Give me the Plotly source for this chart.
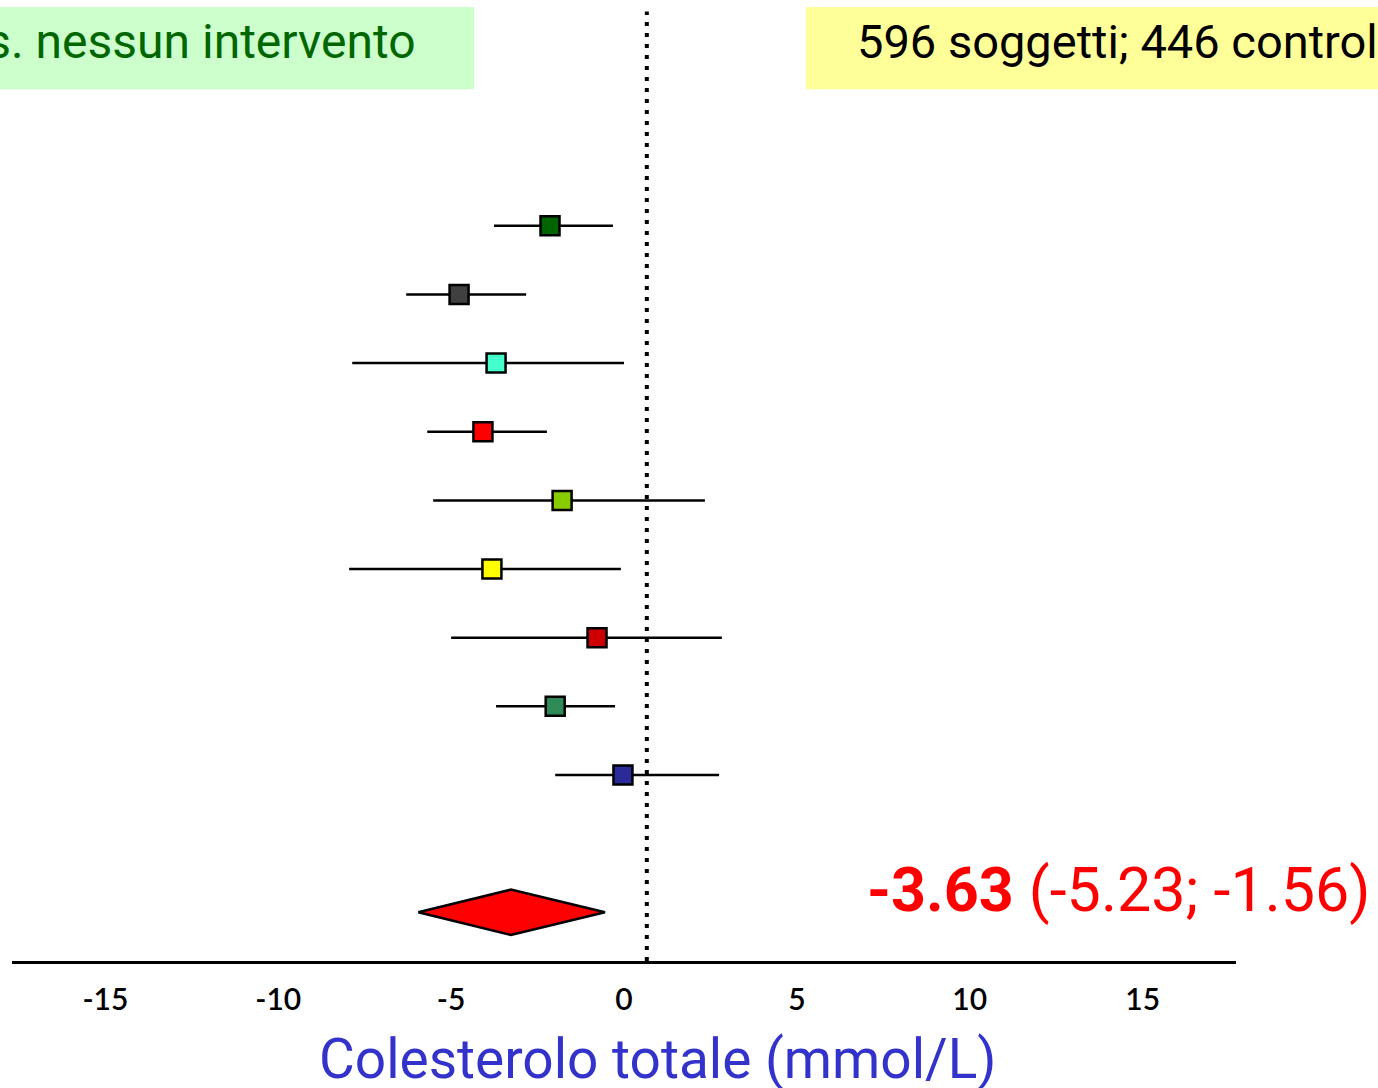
import plotly.graph_objects as go

# ---- data ----
study_rows = [1, 2, 3, 4, 5, 6, 7, 8, 9]
study_mean = [-2.14, -4.77, -3.70, -4.08, -1.79, -3.82, -0.78, -1.99, -0.03]
study_low = [-3.76, -6.30, -7.86, -5.69, -5.52, -7.95, -5.00, -3.70, -1.99]
study_high = [-0.32, -2.83, 0.00, -2.23, 2.34, -0.09, 2.83, -0.26, 2.75]
study_colors = ["#006400", "#404040", "#44ffcc", "#ff0000", "#88cc00",
                "#ffff00", "#cc0000", "#2e8b57", "#2a2a99"]

pooled_row = 11
pooled_mean = -3.27
pooled_low = -5.95
pooled_high = -0.55
pooled_label = ["-3.63", "-5.23", "-1.56"]

ref_line = 0.66
tick_vals = [-15, -10, -5, 0, 5, 10, 15]
tick_text = [str(v) for v in tick_vals]

NARROW = "Roboto, DejaVu Sans Condensed, sans-serif"

fig = go.Figure()

# confidence intervals + squares
fig.add_trace(go.Scatter(
    x=study_mean, y=study_rows, mode="markers",
    marker=dict(symbol="square", size=19, color=study_colors,
                line=dict(color="black", width=2.5)),
    error_x=dict(type="data", symmetric=False,
                 array=[h - m for h, m in zip(study_high, study_mean)],
                 arrayminus=[m - l for m, l in zip(study_mean, study_low)],
                 color="black", thickness=2.5, width=0),
    hoverinfo="skip", showlegend=False,
))

# pooled diamond
h = 0.33
fig.add_trace(go.Scatter(
    x=[pooled_low, pooled_mean, pooled_high, pooled_mean, pooled_low],
    y=[pooled_row, pooled_row - h, pooled_row, pooled_row + h, pooled_row],
    mode="lines", fill="toself", fillcolor="#ff0000",
    line=dict(color="black", width=2.5),
    hoverinfo="skip", showlegend=False,
))

# dotted reference line
fig.add_shape(type="line", xref="x", yref="paper",
              x0=ref_line, x1=ref_line, y0=0, y1=0.988,
              line=dict(color="black", width=4, dash="4px,7px"), layer="below")

# header boxes
fig.add_shape(type="rect", xref="paper", yref="paper",
              x0=-0.0098, x1=0.3775, y0=0.907, y1=0.9927,
              fillcolor="#ccffcc", line=dict(width=0), layer="below")
fig.add_shape(type="rect", xref="paper", yref="paper",
              x0=0.6487, x1=1.13, y0=0.907, y1=0.9927,
              fillcolor="#ffff99", line=dict(width=0), layer="below")

fig.add_annotation(text="vs. nessun intervento", xref="paper", yref="paper",
                   x=0.332, y=0.957, xanchor="right", yanchor="middle",
                   showarrow=False, font=dict(family=NARROW, size=48, color="#006600"))
fig.add_annotation(text="596 soggetti; 446 controlli", xref="paper", yref="paper",
                   x=0.689, y=0.957, xanchor="left", yanchor="middle",
                   showarrow=False, font=dict(family=NARROW, size=47, color="black"))

fig.add_annotation(
    text="<b>%s</b> (%s; %s)" % tuple(pooled_label),
    xref="paper", yref="paper", x=1.112, y=0.074,
    xanchor="right", yanchor="middle", showarrow=False,
    font=dict(family=NARROW, size=61, color="#ff0000"))

# axis title (as annotation so it can sit where the reference has it)
fig.add_annotation(
    text="Colesterolo totale (mmol/L)", xref="paper", yref="paper",
    x=0.528, y=-0.102, xanchor="center", yanchor="middle", showarrow=False,
    font=dict(family=NARROW, size=55, color="#3333cc"))

fig.update_xaxes(
    range=[-17.7, 17.7], tickvals=tick_vals, ticktext=tick_text, ticks="",
    showline=True, linecolor="black", linewidth=2.5,
    showgrid=False, zeroline=False,
    tickfont=dict(family="Lato, DejaVu Sans, sans-serif", size=30,
                  color="black", weight=600),
    ticklabelstandoff=10,
)
fig.update_yaxes(range=[11.71, -2.29], visible=False, showgrid=False, zeroline=False)

fig.update_layout(
    width=1378, height=1088,
    margin=dict(l=12, r=142, t=0, b=127),
    paper_bgcolor="white", plot_bgcolor="white",
)

fig.write_html("out.html", config={"displayModeBar": False},
               post_script="document.body.style.margin='0';")
